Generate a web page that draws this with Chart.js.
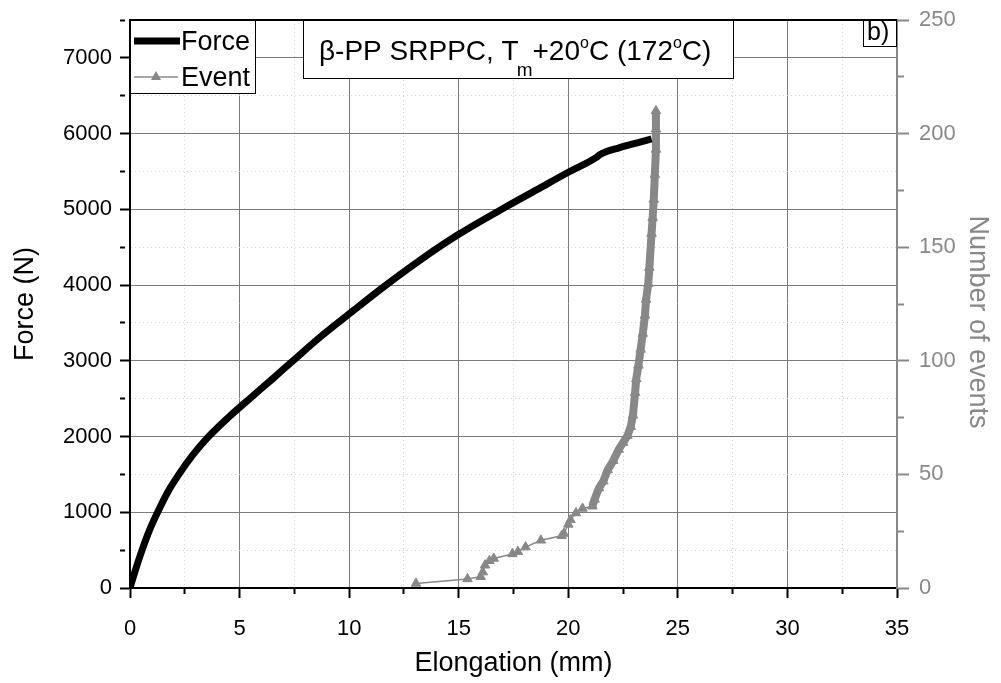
<!DOCTYPE html>
<html>
<head>
<meta charset="utf-8">
<script src="https://cdn.jsdelivr.net/npm/chart.js@4.4.1/dist/chart.umd.min.js"></script>
<style>
  body { margin: 0; background: #fff; }
</style>
</head>
<body>
<canvas id="chart" width="1001" height="683"></canvas>
<script>
// data
const forceX = [0, 0.2, 0.55, 0.9, 1.26, 1.7, 2.23, 2.85, 3.54, 4.5, 5.48, 6.46, 7.55, 8.66, 10.05, 11.5, 13.24, 15.0, 17.2, 18.57, 20.0, 21.3, 21.45, 22.35, 23.1, 23.8];
const forceY = [0, 193, 500, 770, 1000, 1255, 1500, 1750, 1985, 2255, 2505, 2750, 3030, 3310, 3630, 3960, 4330, 4670, 5040, 5260, 5490, 5690, 5725, 5815, 5875, 5930];

const eventX = [13.05, 15.4, 16.0, 16.1, 16.2, 16.4, 16.6, 17.45, 17.7, 18.05, 18.75, 19.7, 19.8, 20.0, 20.1, 20.35, 20.65, 21.1, 21.2, 21.4, 21.6, 21.8, 22.05, 22.3, 22.5, 22.7, 22.85, 22.95, 23.05, 23.1, 23.2, 23.3, 23.4, 23.5, 23.55, 23.65, 23.7, 23.8, 23.85, 23.9, 23.95, 24.0, 24.0, 24.0];
const eventN = [2, 4, 5, 7, 10, 12, 13, 15, 16, 18, 21, 23, 24, 28, 30, 33, 35, 36, 39, 44, 47, 52, 56, 61, 64, 67, 71, 76, 86, 92, 98, 105, 112, 120, 127, 134, 141, 156, 163, 171, 182, 193, 202, 210];

const xLabelStep = 5;      // labelled x ticks
const forceLabelStep = 1000;
const eventLabelStep = 50;

const FONT = "'Liberation Sans', Arial, sans-serif";
const GREY = "#888888";

const isMajor = (v, step) => Math.abs(v / step - Math.round(v / step)) < 1e-6;

// major grid solid grey, minor grid faint dotted
function gridColor(step) {
  return (ctx) => ctx.tick && isMajor(ctx.tick.value, step) ? "#7a7a7a" : "#d4d4d4";
}
function gridDash(step) {
  return (ctx) => ctx.tick && !isMajor(ctx.tick.value, step) ? [1, 3] : [];
}
function tickDash(step, len) {
  return (ctx) => ctx.tick && !isMajor(ctx.tick.value, step) ? [len, 40] : [];
}
// fixed box width, no extra padding for edge labels
function fitY(w) {
  return (s) => { s.width = w; s.paddingTop = 0; s.paddingBottom = 0; };
}

const boxes = {
  id: "boxes",
  afterDraw(chart) {
    const { ctx, chartArea: a } = chart;
    ctx.save();
    ctx.lineWidth = 1;
    ctx.strokeStyle = "#000";
    ctx.fillStyle = "#fff";
    const t = Math.round(a.top) + 0.5;
    [[130.5, t, 125, 73], [303.5, t, 430, 58], [863.5, t, 33, 26]].forEach(([x, y, w, h]) => {
      ctx.fillRect(x, y, w, h);
      ctx.strokeRect(x, y, w, h);
    });
    // top frame
    ctx.lineWidth = 2;
    ctx.beginPath();
    ctx.moveTo(a.left, a.top);
    ctx.lineTo(a.right, a.top);
    ctx.stroke();

    // legend
    ctx.lineWidth = 7;
    ctx.beginPath();
    ctx.moveTo(134, 41);
    ctx.lineTo(180, 41);
    ctx.stroke();
    ctx.strokeStyle = GREY;
    ctx.lineWidth = 1.5;
    ctx.beginPath();
    ctx.moveTo(134, 77);
    ctx.lineTo(178, 77);
    ctx.stroke();
    ctx.fillStyle = GREY;
    ctx.beginPath();
    ctx.moveTo(156, 71);
    ctx.lineTo(161, 80);
    ctx.lineTo(151, 80);
    ctx.closePath();
    ctx.fill();

    ctx.fillStyle = "#000";
    ctx.textBaseline = "alphabetic";
    ctx.textAlign = "left";
    ctx.font = "27px " + FONT;
    ctx.fillText("Force", 181, 50);
    ctx.fillText("Event", 181, 86);

    // title with sub/superscripts: [text, size, dy, dx]
    const parts = [["\u03b2-PP SRPPC, T", 28, 0, 0], ["m", 19, 16, -2], ["+20", 28, 0, 0], ["o", 16, -12.5, 0],
                   ["C (172", 28, 0, 0], ["o", 16, -12.5, 0], ["C)", 28, 0, 0]];
    let x = 319;
    parts.forEach(([s, size, dy, dx]) => {
      ctx.font = size + "px " + FONT;
      x += dx;
      ctx.fillText(s, x, 60 + dy);
      x += ctx.measureText(s).width;
    });

    ctx.font = "25px " + FONT;
    ctx.fillText("b)", 867, 40);

    // right axis title
    ctx.translate(977, 322);
    ctx.rotate(Math.PI / 2);
    ctx.textAlign = "center";
    ctx.textBaseline = "middle";
    ctx.fillStyle = GREY;
    ctx.font = "27px " + FONT;
    ctx.fillText("Number of events", 0, 0);
    ctx.restore();
  }
};

new Chart(document.getElementById("chart"), {
  type: "line",
  data: {
    datasets: [
      {
        label: "Force",
        data: forceX.map((x, i) => ({ x: x, y: forceY[i] })),
        borderColor: "#000",
        borderWidth: 7,
        pointRadius: 0,
        cubicInterpolationMode: "monotone",
        yAxisID: "y",
      },
      {
        label: "Event",
        data: eventX.map((x, i) => ({ x: x, y: eventN[i] })),
        borderColor: GREY,
        backgroundColor: GREY,
        pointBackgroundColor: GREY,
        pointBorderColor: GREY,
        pointStyle: "triangle",
        pointRadius: 5.5,
        pointBorderWidth: 1,
        borderWidth: 1.5,
        segment: {
          borderWidth: (ctx) => (ctx.p0.parsed.y >= 36 ? 8 : 1.5),
        },
        yAxisID: "y1",
      },
    ],
  },
  options: {
    responsive: false,
    animation: false,
    layout: { padding: { top: 20, left: 0, right: 0, bottom: 0 } },
    plugins: {
      legend: { display: false },
      tooltip: { enabled: false },
    },
    scales: {
      x: {
        type: "linear",
        min: 0,
        max: 35,
        afterFit: (s) => { s.height = 95; s.paddingLeft = 0; s.paddingRight = 0; },
        ticks: {
          stepSize: 2.5,
          autoSkip: false,
          maxRotation: 0,
          padding: 18,
          color: "#000",
          font: { family: FONT, size: 22 },
          callback: (v) => (isMajor(v, xLabelStep) ? v : ""),
        },
        grid: {
          color: gridColor(xLabelStep),
          lineWidth: 1,
          tickColor: "#000",
          tickLength: 10,
          tickWidth: 2,
          tickBorderDash: tickDash(xLabelStep, 5),
        },
        border: { color: "#000", width: 2, z: 1, dash: gridDash(xLabelStep) },
        title: {
          display: true,
          text: "Elongation (mm)",
          color: "#000",
          font: { family: FONT, size: 27 },
          padding: { top: 4, bottom: 3 },
        },
      },
      y: {
        position: "left",
        min: 0,
        max: 7500,
        afterFit: fitY(130),
        ticks: {
          stepSize: 500,
          autoSkip: false,
          padding: 8,
          color: "#000",
          font: { family: FONT, size: 22 },
          callback: (v) => (isMajor(v, forceLabelStep) ? v : ""),
        },
        grid: {
          color: gridColor(forceLabelStep),
          lineWidth: 1,
          tickColor: "#000",
          tickLength: 10,
          tickWidth: 2,
          tickBorderDash: tickDash(forceLabelStep, 5),
        },
        border: { color: "#000", width: 2, z: 1, dash: gridDash(forceLabelStep) },
        title: {
          display: true,
          text: "Force (N)",
          color: "#000",
          font: { family: FONT, size: 27 },
          padding: { top: 9, bottom: 4 },
        },
      },
      y1: {
        position: "right",
        min: 0,
        max: 250,
        afterFit: fitY(104),
        ticks: {
          stepSize: 25,
          autoSkip: false,
          padding: 10,
          color: GREY,
          font: { family: FONT, size: 22 },
          callback: (v) => (isMajor(v, eventLabelStep) ? v : ""),
        },
        grid: {
          drawOnChartArea: false,
          tickColor: GREY,
          tickLength: 12,
          tickWidth: 2,
          tickBorderDash: tickDash(eventLabelStep, 6),
        },
        border: { color: GREY, width: 2, z: 1 },
        title: { display: false },
      },
    },
  },
  plugins: [boxes],
});
</script>
</body>
</html>
